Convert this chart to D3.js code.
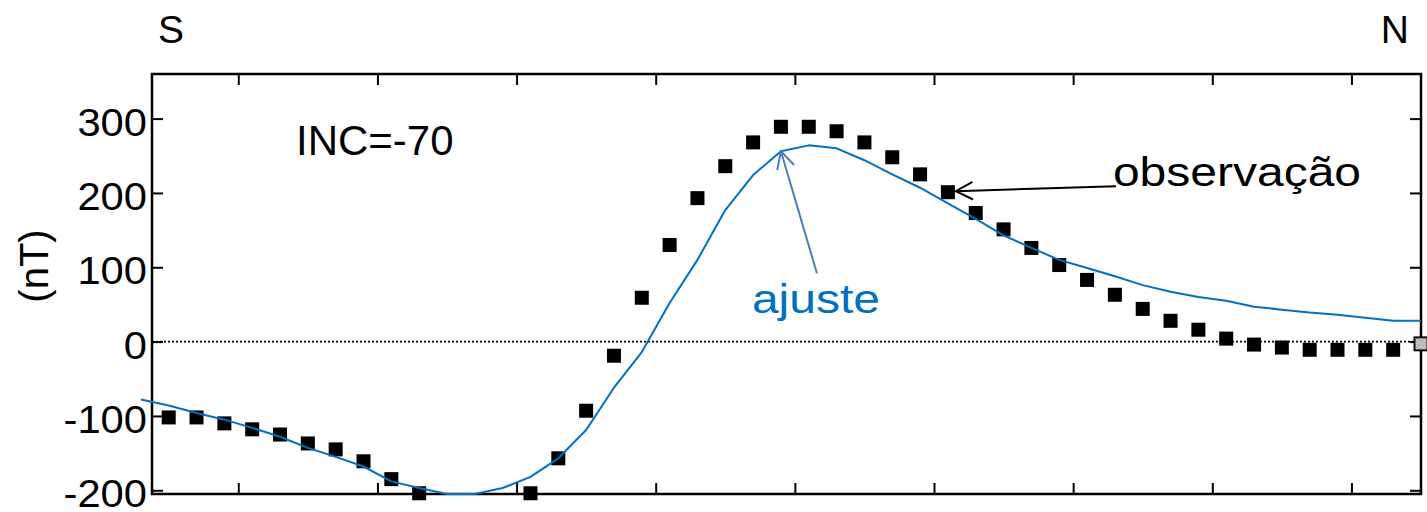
<!DOCTYPE html>
<html>
<head>
<meta charset="utf-8">
<script src="https://cdn.jsdelivr.net/npm/d3@7/dist/d3.min.js"></script>
<style>
  html, body { margin: 0; padding: 0; background: #fff; }
  svg { display: block; }
  text { font-family: "Liberation Sans", Arial, sans-serif; }
</style>
</head>
<body>
<svg id="chart" width="1427" height="512"></svg>
<script>
// Stations along the S–N profile (m) and anomaly values (nT)
const fitStations = [-35, -25, -15, -5, 5, 15, 25, 35, 45, 55, 65, 75, 85, 95, 105, 115, 125, 135, 145, 155,
  165, 175, 185, 195, 205, 215, 225, 235, 245, 255, 265, 275, 285, 295, 305, 315, 325, 335, 345, 355,
  365, 375, 385, 395, 405, 415, 425];
const fitValues = [-78, -86, -96, -105, -116, -128, -143, -155, -168, -188, -197, -205, -205, -197, -182, -157,
  -119, -62, -14, 52, 110, 177, 224, 256, 264, 260, 244, 225, 207, 186, 165, 143, 126, 110, 99, 88, 76,
  67, 60, 55, 47, 43, 39, 36, 32, 28, 28];

const obsStations = [-25, -15, -5, 5, 15, 25, 35, 45, 55, 65, 75, 85, 95, 105, 115, 125, 135, 145, 155,
  165, 175, 185, 195, 205, 215, 225, 235, 245, 255, 265, 275, 285, 295, 305, 315, 325, 335, 345, 355,
  365, 375, 385, 395, 405, 415];
const obsValues = [-102, -102, -110, -118, -125, -137, -145, -161, -185, -204, null, null, null, -204, -157,
  -93, -19, 59, 130, 193, 236, 268, 289, 289, 283, 268, 248, 225, 201, 173, 151, 126, 103, 83, 63,
  44, 28, 16, 4, -4, -8, -11, -11, -11, -11];

// Base station at the northern end of the profile
const baseStation = [425];
const baseValue = [-3];

const yTicks = [300, 200, 100, 0, -100, -200];
const xTicks = [0, 50, 100, 150, 200, 250, 300, 350, 400];

const frame = { left: 152, right: 1421, top: 74, bottom: 494 };
const fitColor = "#0070C0";
const arrowBlue = "#4A7EBB";

const svg = d3.select("#chart");

const x = d3.scaleLinear().domain([-31, 425]).range([frame.left, frame.right]);
const y = d3.scaleLinear().domain([-205, 360]).range([frame.bottom, frame.top]);

// Zero reference line
svg.append("line")
  .attr("x1", frame.left).attr("x2", frame.right)
  .attr("y1", y(0)).attr("y2", y(0))
  .attr("stroke", "#000").attr("stroke-width", 1.8)
  .attr("stroke-dasharray", "2,2");

// Axes: ticks point inward on all four sides, labels only on the left
const tickLen = 11;
const axisLeft = d3.axisRight(y).tickValues(yTicks).tickSize(tickLen).tickFormat("");
const axisRight = d3.axisLeft(y).tickValues(yTicks).tickSize(tickLen).tickFormat("");
const axisBottom = d3.axisTop(x).tickValues(xTicks).tickSize(tickLen).tickFormat("");
const axisTop = d3.axisBottom(x).tickValues(xTicks).tickSize(tickLen).tickFormat("");

function styleAxis(g) {
  g.select(".domain").remove();
  g.selectAll(".tick line").attr("stroke", "#000").attr("stroke-width", 2);
}
svg.append("g").attr("transform", `translate(${frame.left},0)`).call(axisLeft).call(styleAxis);
svg.append("g").attr("transform", `translate(${frame.right},0)`).call(axisRight).call(styleAxis);
svg.append("g").attr("transform", `translate(0,${frame.bottom})`).call(axisBottom).call(styleAxis);
svg.append("g").attr("transform", `translate(0,${frame.top})`).call(axisTop).call(styleAxis);

// Y tick labels
svg.append("g").selectAll("text")
  .data(yTicks).join("text")
  .attr("transform", d => `translate(${frame.left - 5},${y(d) + 17}) scale(1.07,1)`)
  .attr("text-anchor", "end")
  .attr("font-size", 39)
  .attr("fill", "#000")
  .text(d => d);

// Frame
svg.append("rect")
  .attr("x", frame.left).attr("y", frame.top)
  .attr("width", frame.right - frame.left).attr("height", frame.bottom - frame.top)
  .attr("fill", "none").attr("stroke", "#000").attr("stroke-width", 2.5);

// Observed anomaly
const sq = 14;
const obs = obsStations.map((s, i) => ({ s, v: obsValues[i] })).filter(d => d.v !== null);
svg.append("g").selectAll("rect")
  .data(obs).join("rect")
  .attr("x", d => x(d.s) - sq / 2)
  .attr("y", d => y(d.v) - sq / 2)
  .attr("width", sq).attr("height", sq)
  .attr("fill", "#000");

// Base station marker
svg.append("g").selectAll("rect")
  .data(baseStation.map((s, i) => ({ s, v: baseValue[i] }))).join("rect")
  .attr("x", d => x(d.s) - 6.5)
  .attr("y", d => y(d.v) - 6.5)
  .attr("width", 13).attr("height", 13)
  .attr("fill", "#BDBDBD").attr("stroke", "#111").attr("stroke-width", 2);

// Model fit
const fit = fitStations.map((s, i) => ({ s, v: fitValues[i] }));
svg.append("path")
  .datum(fit)
  .attr("fill", "none")
  .attr("stroke", fitColor)
  .attr("stroke-width", 2)
  .attr("stroke-linejoin", "round")
  .attr("d", d3.line().x(d => x(d.s)).y(d => y(d.v)));

// Open arrowhead helper
function arrow(g, x1, y1, x2, y2, color, width) {
  const a = Math.atan2(y2 - y1, x2 - x1);
  const L = 19, spread = Math.PI / 6.5;
  g.append("line").attr("x1", x1).attr("y1", y1).attr("x2", x2).attr("y2", y2)
    .attr("stroke", color).attr("stroke-width", width);
  g.append("path")
    .attr("d", `M${x2 - L * Math.cos(a - spread)},${y2 - L * Math.sin(a - spread)}L${x2},${y2}L${x2 - L * Math.cos(a + spread)},${y2 - L * Math.sin(a + spread)}`)
    .attr("fill", "none").attr("stroke", color).attr("stroke-width", width);
}

const ann = svg.append("g");

// "ajuste" label pointing at the fitted curve
const fitPeak = fit[23];
const fx = x(fitPeak.s), fy = y(fitPeak.v);
arrow(ann, fx + 36, fy + 122, fx, fy, arrowBlue, 2);
ann.append("text")
  .attr("transform", `translate(${fx - 29},${fy + 162}) scale(1.2,1)`)
  .attr("font-size", 40).attr("fill", fitColor).text("ajuste");

// "observação" label pointing at an observed point
const obsPt = obs.find(d => d.s === 255);
const ox = x(obsPt.s) + 8, oy = y(obsPt.v) - 1;
arrow(ann, ox + 160, oy - 5, ox, oy, "#000", 2);
ann.append("text")
  .attr("transform", `translate(${ox + 157},${oy - 5}) scale(1.2,1)`)
  .attr("font-size", 40).attr("fill", "#000").text("observação");

// Inclination note
ann.append("text").attr("x", 296).attr("y", 155)
  .attr("font-size", 42).attr("fill", "#000").text("INC=-70");

// Profile direction
svg.append("text").attr("x", 158).attr("y", 43).attr("font-size", 39).attr("fill", "#000").text("S");
svg.append("text").attr("x", 1409).attr("y", 43).attr("text-anchor", "end")
  .attr("font-size", 39).attr("fill", "#000").text("N");

// Y axis unit
svg.append("text")
  .attr("transform", "translate(48,266) rotate(-90)")
  .attr("text-anchor", "middle")
  .attr("font-size", 40).attr("fill", "#000").text("(nT)");
</script>
</body>
</html>
